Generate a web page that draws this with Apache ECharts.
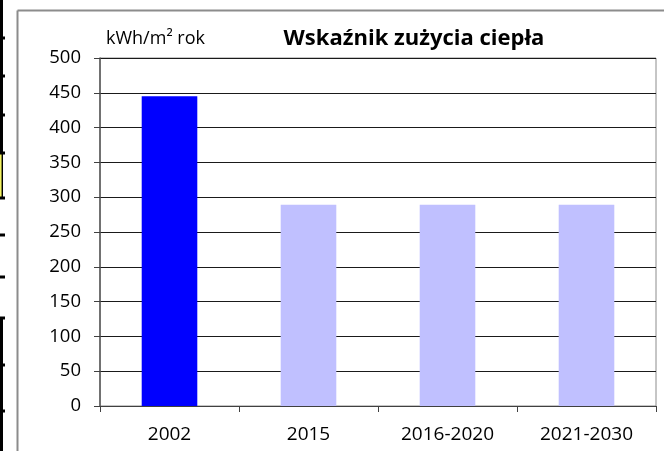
<!DOCTYPE html>
<html>
<head>
<meta charset="utf-8">
<script src="https://cdn.jsdelivr.net/npm/echarts@6/dist/echarts.min.js"></script>
<style>
html,body{margin:0;padding:0;background:#fff;}
#chart{width:664px;height:451px;}
</style>
</head>
<body>
<div id="chart"></div>
<script>
// ---- data ----
var categories = ['2002', '2015', '2016-2020', '2021-2030'];
var values = [445, 289, 289, 289];
var yTicks = [0, 50, 100, 150, 200, 250, 300, 350, 400, 450, 500];
var titleText = 'Wskaźnik zużycia ciepła';
var unitText = 'kWh/m² rok';

// ---- styles ----
var FONT = '"Open Sans", sans-serif';
var barColors = ['#0000ff', '#c0c0ff', '#c0c0ff', '#c0c0ff'];

var chart = echarts.init(document.getElementById('chart'), null, {renderer: 'canvas'});

var deco = [];
// outer frame (gray)
deco.push({type:'line', shape:{x1:17.5, y1:10.5, x2:664, y2:10.5}, style:{stroke:'#8c8c8c', lineWidth:2}, silent:true});
deco.push({type:'line', shape:{x1:17.5, y1:10.5, x2:17.5, y2:451}, style:{stroke:'#8c8c8c', lineWidth:2}, silent:true});
// left-edge page artifacts
deco.push({type:'line', shape:{x1:1.5, y1:0, x2:1.5, y2:199}, style:{stroke:'#000', lineWidth:3}, silent:true});
deco.push({type:'line', shape:{x1:0.8, y1:154, x2:0.8, y2:197}, style:{stroke:'#ffff66', lineWidth:1.5}, silent:true});
deco.push({type:'line', shape:{x1:1.5, y1:318, x2:1.5, y2:451}, style:{stroke:'#000', lineWidth:3}, silent:true});
[38, 76, 115, 153, 198, 235, 277, 318, 365, 411].forEach(function (y) {
  deco.push({type:'line', shape:{x1:0, y1:y, x2:5, y2:y}, style:{stroke:'#000', lineWidth:3}, silent:true});
});

chart.setOption({
  animation: false,
  backgroundColor: '#fff',
  title: {
    text: titleText,
    left: 414,
    textAlign: 'center',
    top: 28,
    padding: 0,
    textStyle: {fontFamily: FONT, fontSize: 22, fontWeight: 'bold', color: '#000'}
  },
  grid: {
    left: 100, top: 58, right: 8, bottom: 45,
    show: true, borderColor: '#8c8c8c', borderWidth: 1, backgroundColor: '#fff'
  },
  xAxis: {
    type: 'category',
    data: categories,
    boundaryGap: true,
    axisLine: {show: true, lineStyle: {color: '#404040', width: 1}},
    axisTick: {show: true, inside: false, length: 6, alignWithLabel: false, lineStyle: {color: '#404040'}},
    axisLabel: {fontFamily: FONT, fontSize: 19, color: '#000', margin: 19},
    splitLine: {show: false}
  },
  yAxis: {
    type: 'value',
    min: yTicks[0],
    max: yTicks[yTicks.length - 1],
    interval: yTicks[1] - yTicks[0],
    name: unitText,
    nameLocation: 'end',
    nameGap: 10,
    nameTextStyle: {fontFamily: FONT, fontSize: 18, color: '#000', align: 'left', padding: [0, 0, 0, 6]},
    axisLine: {show: true, lineStyle: {color: '#555', width: 1.5}},
    axisTick: {show: true, inside: false, length: 6, lineStyle: {color: '#404040'}},
    axisLabel: {fontFamily: FONT, fontSize: 18.5, color: '#000', margin: 19},
    splitLine: {show: true, lineStyle: {color: '#1a1a1a', width: 1}}
  },
  series: [{
    type: 'bar',
    barWidth: '40%',
    data: values.map(function (v, i) {
      return {value: v, itemStyle: {color: barColors[i]}};
    }),
    emphasis: {disabled: true}
  }],
  graphic: deco
});
</script>
</body>
</html>
